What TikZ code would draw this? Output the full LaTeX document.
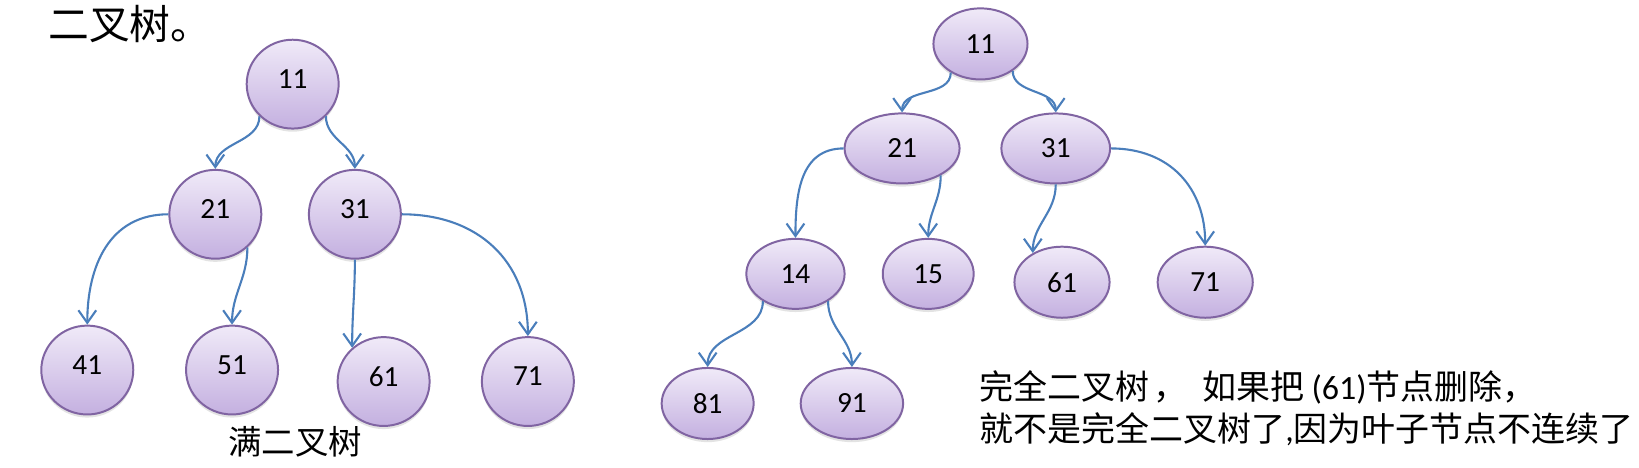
\documentclass[tikz,border=0pt]{standalone}
\usepackage{fontspec}
\setmainfont{Carlito}
\newfontfamily\cjk{Noto Sans CJK SC}
\usetikzlibrary{arrows.meta,shapes.geometric,shadows}

\definecolor{ntop}{RGB}{240,234,248}
\definecolor{nbot}{RGB}{196,176,224}
\definecolor{nborder}{RGB}{128,100,162}
\definecolor{eblue}{RGB}{74,126,187}

\tikzset{
  tnode/.style={ellipse, draw=nborder, line width=1.9pt, top color=ntop, bottom color=nbot,
    inner sep=0pt, font=\fontsize{28}{28}\selectfont,
    drop shadow={opacity=0.22, shadow xshift=0pt, shadow yshift=-3pt}},
  lnode/.style={tnode, minimum width=88pt, minimum height=85pt, text depth=10pt},
  rnode/.style={tnode, text depth=0pt},
  edge/.style={draw=eblue, line width=2pt, -{Straight Barb[length=12pt,width=17pt]}},
  cjktext/.style={inner sep=0pt, font=\cjk\fontsize{#1}{#1}\selectfont},
}

\begin{document}
\begin{tikzpicture}[x=1pt,y=1pt]
\fill[white] (0,0) rectangle (1568,-447);
\useasboundingbox (0,0) rectangle (1568,-447);

% title
\node[cjktext=39, anchor=base west] (title) at (46,-37.5) {二叉树。};

% left tree (full binary tree)
\node[lnode] (L11) at (280,-80.5) {11};
\node[lnode] (L21) at (206,-205) {21};
\node[lnode] (L31) at (339.5,-205) {31};
\node[lnode] (L41) at (83.5,-354) {41};
\node[lnode] (L51) at (222,-354) {51};
\node[lnode] (L61) at (367,-365) {61};
\node[lnode] (L71) at (505,-365) {71};

\draw[edge] (L11.-136) to[out=-90,in=90] (L21.north);
\draw[edge] (L11.-44) to[out=-90,in=90] (L31.north);
\draw[edge] (L21.west) to[out=180,in=90,looseness=1.1] (L41.north);
\draw[edge] (L21.-46) to[out=-90,in=90] (L51.north);
\draw[edge] (L31.south) to[out=-90,in=90] (L61.133);
\draw[edge] (L31.east) to[out=0,in=90,looseness=1.1] (L71.north);

\node[cjktext=32, anchor=base] (fulllabel) at (282.5,-435) {满二叉树};

% right tree (complete binary tree)
\node[rnode, minimum width=90pt, minimum height=68pt] (R11) at (938,-42) {11};
\node[rnode, minimum width=110pt, minimum height=67pt] (R21) at (863,-142) {21};
\node[rnode, minimum width=104pt, minimum height=67pt] (R31) at (1010,-142) {31};
\node[rnode, minimum width=94pt, minimum height=67pt] (R14) at (761,-262) {14};
\node[rnode, minimum width=87pt, minimum height=67pt] (R15) at (888,-262) {15};
\node[rnode, minimum width=91pt, minimum height=68pt] (R61) at (1016,-270) {61};
\node[rnode, minimum width=91pt, minimum height=68pt] (R71) at (1153,-270) {71};
\node[rnode, minimum width=88pt, minimum height=68pt] (R81) at (677,-386) {81};
\node[rnode, minimum width=98pt, minimum height=68pt] (R91) at (815,-386) {91};

\draw[edge] (R11.-136) to[out=-90,in=90] (R21.north);
\draw[edge] (R11.-40) to[out=-90,in=90] (R31.north);
\draw[edge] (R21.west) to[out=180,in=90,looseness=1.1] (R14.north);
\draw[edge] (R21.-35) to[out=-90,in=90] (R15.north);
\draw[edge] (R31.south) to[out=-90,in=90] (R61.135);
\draw[edge] (R31.east) to[out=0,in=90,looseness=1.1] (R71.north);
\draw[edge] (R14.-140) to[out=-90,in=90] (R81.north);
\draw[edge] (R14.-40) to[out=-90,in=90] (R91.north);

% explanation
\node[cjktext=32.5, anchor=base west] (line1) at (937,-382)
  {完全二叉树\hspace{4pt}，\hspace{14pt}如果把\hspace{7pt}{\rmfamily (61)}节点删除，};
\node[cjktext=32.5, anchor=base west] (line2) at (937,-422)
  {就不是完全二叉树了{\rmfamily ,}因为叶子节点不连续了};
\end{tikzpicture}
\end{document}
